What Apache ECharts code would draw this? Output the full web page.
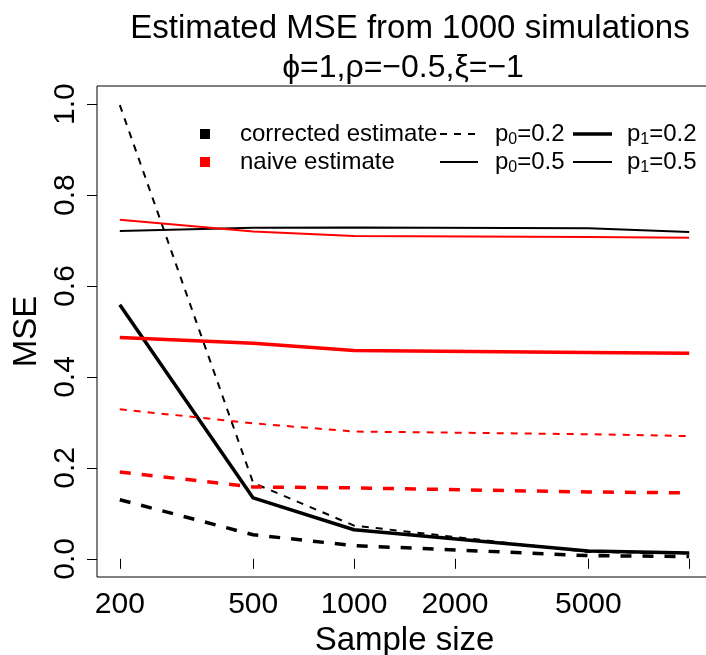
<!DOCTYPE html>
<html>
<head>
<meta charset="utf-8">
<script src="https://cdn.jsdelivr.net/npm/echarts@6/dist/echarts.min.js"></script>
<style>html,body{margin:0;padding:0;background:#fff}#c{width:706px;height:655px}</style>
</head>
<body>
<div id="c"></div>
<script>
// ---- data ----
var sampleSizes = [200, 500, 1000, 5000, 10000];
var xTicks = [200, 500, 1000, 2000, 5000, 10000];
var xTickLabels = ['200', '500', '1000', '2000', '5000', ''];
var yTicks = [0, 0.2, 0.4, 0.6, 0.8, 1.0];
// corrected estimate (black)
var corrP02_P05 = [0.998, 0.167, 0.073, 0.015, 0.012]; // thin dashed
var corrP02_P02 = [0.130, 0.053, 0.029, 0.007, 0.005]; // thick dashed
var corrP05_P02 = [0.559, 0.134, 0.064, 0.017, 0.013]; // thick solid
var corrP05_P05 = [0.721, 0.728, 0.729, 0.727, 0.719]; // thin solid
// naive estimate (red)
var naiveP05_P05 = [0.746, 0.720, 0.710, 0.708, 0.706]; // thin solid
var naiveP05_P02 = [0.487, 0.474, 0.458, 0.454, 0.452]; // thick solid
var naiveP02_P05 = [0.329, 0.298, 0.280, 0.274, 0.270]; // thin dashed
var naiveP02_P02 = [0.191, 0.158, 0.156, 0.147, 0.145]; // thick dashed

var FONT = '"Liberation Sans", Arial, Helvetica, sans-serif';
var BLACK = '#000000', RED = '#ff0000';
var THIN = 2, THICK = 3.5;

function pairs(vals) { return sampleSizes.map(function (n, i) { return [n, vals[i]]; }); }
function mk(name, vals, color, width, dashed) {
  return {
    name: name, type: 'line', data: pairs(vals), symbol: 'none', silent: true,
    lineStyle: { color: color, width: width, type: dashed ? (width > 2.5 ? [11, 11] : [7, 7]) : 'solid', cap: 'butt' },
    z: 3
  };
}

var chart = echarts.init(document.getElementById('c'), null, { renderer: 'canvas' });
var sub = { fontSize: 16, fontFamily: FONT, color: '#000', padding: [12, 0, 0, 0] };
var main = { fontSize: 24, fontFamily: FONT, color: '#000' };
chart.setOption({
  animation: false,
  backgroundColor: '#fff',
  grid: { left: 97, top: 86, width: 615, height: 491, show: true, borderColor: '#000', borderWidth: 1, backgroundColor: 'transparent', outerBoundsMode: 'none', containLabel: false },
  xAxis: {
    type: 'log', min: 171, max: 11696,
    name: 'Sample size', nameLocation: 'middle', nameGap: 46,
    nameTextStyle: { fontSize: 33, fontFamily: FONT, color: '#000' },
    axisLine: { show: false },
    axisTick: { show: true, length: 10, inside: false, customValues: xTicks, lineStyle: { color: '#000', width: 1 } },
    axisLabel: { customValues: xTicks, margin: 13, fontSize: 30, fontFamily: FONT, color: '#000', hideOverlap: false,
      formatter: function (v) { var i = xTicks.indexOf(Math.round(v)); return i >= 0 ? xTickLabels[i] : ''; } },
    splitLine: { show: false }, minorTick: { show: false }
  },
  yAxis: {
    type: 'value', min: -0.04, max: 1.04,
    name: 'MSE', nameLocation: 'middle', nameGap: 52, nameRotate: 90,
    nameTextStyle: { fontSize: 33, fontFamily: FONT, color: '#000' },
    axisLine: { show: false },
    axisTick: { show: true, length: 10, customValues: yTicks, lineStyle: { color: '#000', width: 1 } },
    axisLabel: { customValues: yTicks, rotate: 90, margin: 16, fontSize: 30, fontFamily: FONT, color: '#000',
      formatter: function (v) { return v.toFixed(1); } },
    splitLine: { show: false }
  },
  series: [
    mk('corrected p0=0.2 p1=0.5', corrP02_P05, BLACK, THIN, true),
    mk('corrected p0=0.2 p1=0.2', corrP02_P02, BLACK, THICK, true),
    mk('corrected p0=0.5 p1=0.2', corrP05_P02, BLACK, THICK, false),
    mk('corrected p0=0.5 p1=0.5', corrP05_P05, BLACK, THIN, false),
    mk('naive p0=0.5 p1=0.5', naiveP05_P05, RED, THIN, false),
    mk('naive p0=0.5 p1=0.2', naiveP05_P02, RED, THICK, false),
    mk('naive p0=0.2 p1=0.5', naiveP02_P05, RED, THIN, true),
    mk('naive p0=0.2 p1=0.2', naiveP02_P02, RED, THICK, true)
  ],
  graphic: [
    { type: 'text', style: { text: 'Estimated MSE from 1000 simulations', x: 410, y: 29, textAlign: 'center', textVerticalAlign: 'middle', fontSize: 33, fontFamily: FONT, fill: '#000' } },
    { type: 'text', style: { text: 'ϕ=1,ρ=−0.5,ξ=−1', x: 403, y: 68, textAlign: 'center', textVerticalAlign: 'middle', fontSize: 32, fontFamily: FONT, fill: '#000' } },
    // legend
    { type: 'rect', shape: { x: 200, y: 129, width: 10, height: 10 }, style: { fill: BLACK } },
    { type: 'rect', shape: { x: 200, y: 157, width: 10, height: 10 }, style: { fill: RED } },
    { type: 'text', style: { text: 'corrected estimate', x: 240, y: 134, textVerticalAlign: 'middle', fontSize: 24, fontFamily: FONT, fill: '#000' } },
    { type: 'text', style: { text: 'naive estimate', x: 240, y: 162, textVerticalAlign: 'middle', fontSize: 24, fontFamily: FONT, fill: '#000' } },
    { type: 'line', shape: { x1: 440, y1: 134, x2: 478, y2: 134 }, style: { stroke: BLACK, lineWidth: THIN, lineDash: [7, 7] } },
    { type: 'line', shape: { x1: 440, y1: 162, x2: 478, y2: 162 }, style: { stroke: BLACK, lineWidth: THIN } },
    { type: 'line', shape: { x1: 573, y1: 134, x2: 612, y2: 134 }, style: { stroke: BLACK, lineWidth: THICK } },
    { type: 'line', shape: { x1: 573, y1: 162, x2: 612, y2: 162 }, style: { stroke: BLACK, lineWidth: THIN } },
    { type: 'text', style: { text: '{m|p}{s|0}{m|=0.2}', x: 495, y: 134, textVerticalAlign: 'middle', rich: { m: main, s: sub } } },
    { type: 'text', style: { text: '{m|p}{s|0}{m|=0.5}', x: 495, y: 162, textVerticalAlign: 'middle', rich: { m: main, s: sub } } },
    { type: 'text', style: { text: '{m|p}{s|1}{m|=0.2}', x: 627, y: 134, textVerticalAlign: 'middle', rich: { m: main, s: sub } } },
    { type: 'text', style: { text: '{m|p}{s|1}{m|=0.5}', x: 627, y: 162, textVerticalAlign: 'middle', rich: { m: main, s: sub } } }
  ]
});
</script>
</body>
</html>
